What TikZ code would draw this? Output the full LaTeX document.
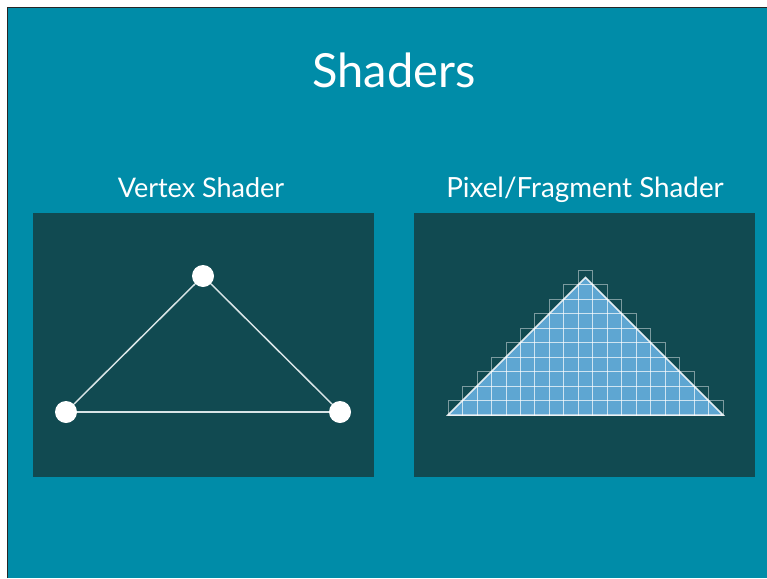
\documentclass[tikz,border=0pt]{standalone}
\usepackage{fontspec}
\setmainfont{Lato}
\definecolor{slidebg}{HTML}{008CA8}
\definecolor{panel}{HTML}{114A51}
\definecolor{tri}{HTML}{5EA6D2}
\definecolor{edgecol}{HTML}{D8E4E6}
\tikzset{
  panelbox/.style={fill=panel, draw=none, minimum width=341pt, minimum height=264pt, inner sep=0pt},
  vertexdot/.style={circle, fill=white, draw=none, minimum size=22pt, inner sep=0pt},
  edgeline/.style={draw=edgecol, line width=1.5pt},
  heading/.style={text=white, anchor=base, inner sep=0pt},
  gridcell/.style={draw=white, draw opacity=0.45, line width=0.8pt},
  triedge/.style={draw=white, draw opacity=0.85, line width=1.5pt, line join=miter}
}
\begin{document}
\begin{tikzpicture}[x=1pt,y=-1pt]
\useasboundingbox (0,0) rectangle (767,578);
\fill[white] (0,0) rectangle (767,578);
\fill[slidebg] (8,8) rectangle (767,578);
\draw[black!85, line width=1.2pt] (7.6,578) -- (7.6,7.6) -- (767,7.6);

\node[heading, font=\fontsize{47}{56}\selectfont] (title) at (394,87) {Shaders};
\node[heading, font=\fontsize{27}{32}\selectfont] (vtitle) at (201,197) {Vertex Shader};
\node[heading, font=\fontsize{27.8}{32}\selectfont] (ptitle) at (585,197) {Pixel/Fragment Shader};

\node[panelbox] (vbox) at (203.5,344.5) {};
\node[panelbox] (pbox) at (584.5,344.5) {};

% vertex shader triangle
\node[vertexdot] (v1) at (203,276) {};
\node[vertexdot] (v2) at (66,412) {};
\node[vertexdot] (v3) at (340,412) {};
\draw[edgeline] (v1) -- (v2);
\draw[edgeline] (v2) -- (v3);
\draw[edgeline] (v3) -- (v1);

% pixel shader triangle
\def\cs{14.4737}
\coordinate (pa) at (448,415);
\coordinate (pb) at (585.5,277.5);
\coordinate (pc) at (723,415);
\fill[tri] (pa) -- (pb) -- (pc) -- cycle;
\foreach \k in {0,...,9} {
  \pgfmathtruncatemacro\cmax{18-\k}
  \foreach \c in {\k,...,\cmax} {
    \draw[gridcell] ({448+\c*\cs},{415-(\k+1)*\cs}) rectangle ({448+(\c+1)*\cs},{415-\k*\cs});
  }
}
\draw[triedge] (pa) -- (pb) -- (pc) -- cycle;
\end{tikzpicture}
\end{document}
